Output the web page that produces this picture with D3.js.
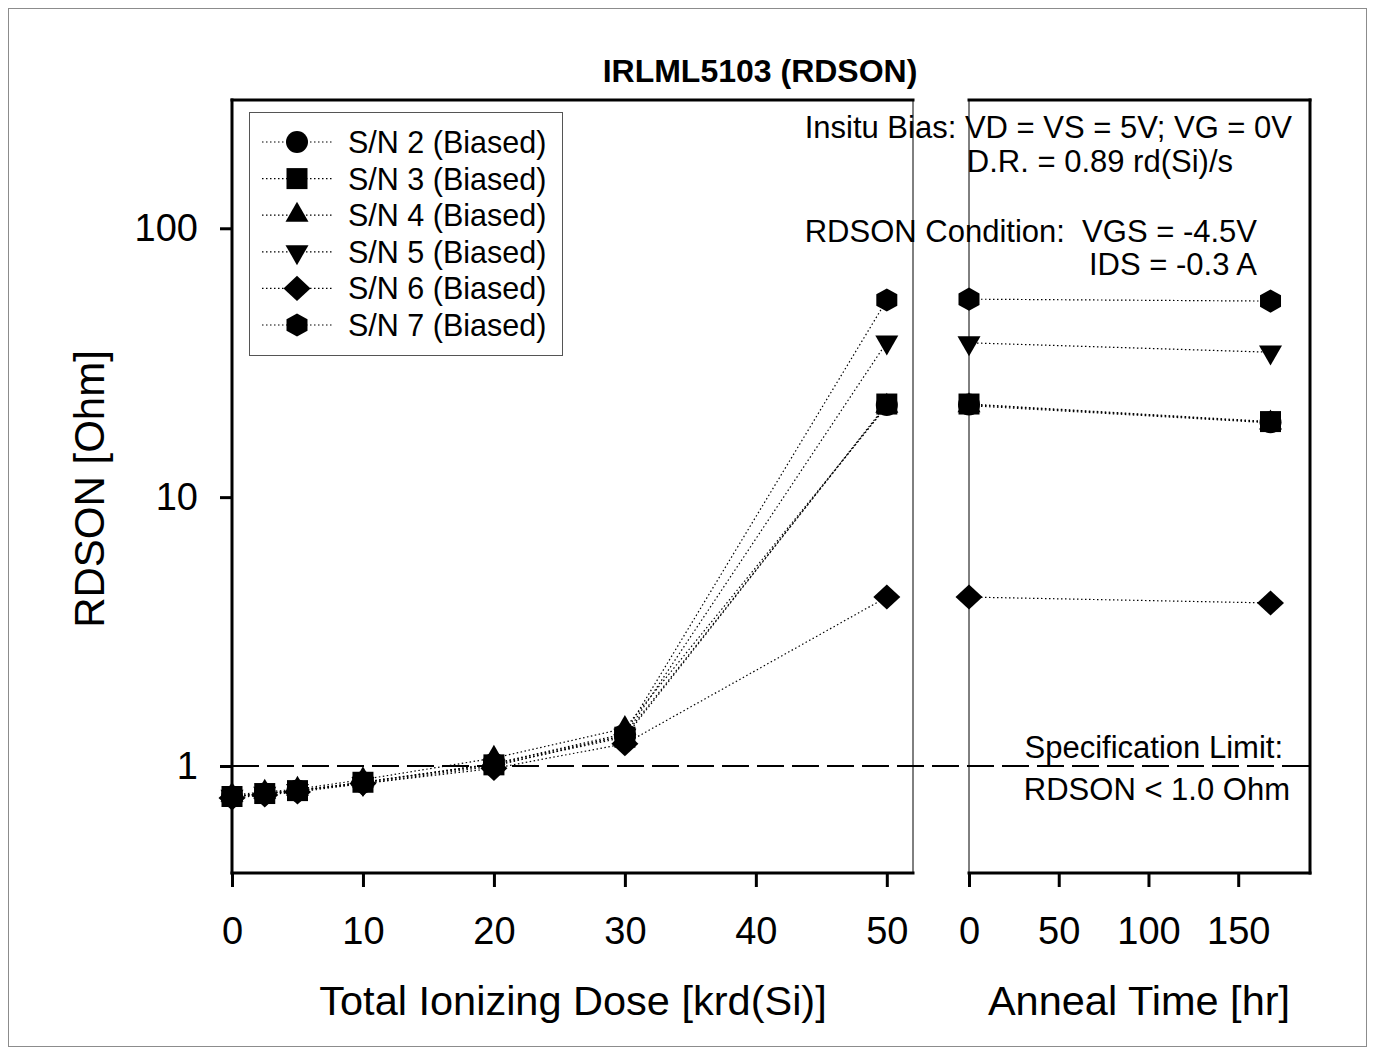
<!DOCTYPE html>
<html lang="en">
<head>
  <meta charset="UTF-8">
  <title>IRLML5103 (RDSON)</title>
  <script src="https://d3js.org/d3.v7.min.js"></script>
  <style>
    * { margin: 0; padding: 0; }
    body { background-color: #fff; }
    svg text { font-family: "Liberation Sans", Arial, sans-serif; fill: #000; }
  </style>
</head>
<body>
  <svg id="chart" width="1375" height="1055"></svg>

  <script>
    // dose steps (krd(Si)) and anneal times (hr)
    var dose = [0, 2.5, 5, 10, 20, 30, 50];
    var anneal = [0, 168];

    var sn2Dose = [0.77, 0.79, 0.81, 0.87, 1.02, 1.30, 22.0];
    var sn3Dose = [0.77, 0.79, 0.81, 0.87, 1.01, 1.28, 22.2];
    var sn4Dose = [0.78, 0.80, 0.82, 0.89, 1.07, 1.38, 21.8];
    var sn5Dose = [0.77, 0.79, 0.81, 0.86, 1.00, 1.30, 37.7];
    var sn6Dose = [0.76, 0.78, 0.80, 0.86, 0.98, 1.21, 4.25];
    var sn7Dose = [0.77, 0.79, 0.81, 0.87, 1.02, 1.32, 54.1];

    var sn2Anneal = [22.1, 19.0];
    var sn3Anneal = [22.2, 19.1];
    var sn4Anneal = [21.9, 18.9];
    var sn5Anneal = [37.5, 34.6];
    var sn6Anneal = [4.25, 4.04];
    var sn7Anneal = [54.5, 53.6];

    var labels = ["S/N 2 (Biased)", "S/N 3 (Biased)", "S/N 4 (Biased)",
                  "S/N 5 (Biased)", "S/N 6 (Biased)", "S/N 7 (Biased)"];
    var doseTicks = [0, 10, 20, 30, 40, 50];
    var annealTicks = [0, 50, 100, 150];
    var yTicks = [1, 10, 100];
    var specLimit = 1.0;

    // marker shapes, size = half width in px
    var circle = { draw: function(c, r) { c.moveTo(r, 0); c.arc(0, 0, r, 0, 2 * Math.PI); } };
    var square = { draw: function(c, r) { c.rect(-r, -r, 2 * r, 2 * r); } };
    var triUp = { draw: function(c, r) {
      var h = r * 1.74;
      c.moveTo(0, -h * 2 / 3); c.lineTo(r, h / 3); c.lineTo(-r, h / 3); c.closePath();
    } };
    var triDown = { draw: function(c, r) {
      var h = r * 1.74;
      c.moveTo(0, h * 2 / 3); c.lineTo(r, -h / 3); c.lineTo(-r, -h / 3); c.closePath();
    } };
    var diamond = { draw: function(c, r) {
      var h = r * 0.93;
      c.moveTo(0, -h); c.lineTo(r, 0); c.lineTo(0, h); c.lineTo(-r, 0); c.closePath();
    } };
    var hexagon = { draw: function(c, r) {
      var h = r * 1.1;
      c.moveTo(0, -h); c.lineTo(r, -h / 2); c.lineTo(r, h / 2);
      c.lineTo(0, h); c.lineTo(-r, h / 2); c.lineTo(-r, -h / 2); c.closePath();
    } };

    var series = [
      { name: labels[0], shape: circle,  size: 11,   dose: sn2Dose, anneal: sn2Anneal },
      { name: labels[1], shape: square,  size: 10.5, dose: sn3Dose, anneal: sn3Anneal },
      { name: labels[2], shape: triUp,   size: 11.5, dose: sn4Dose, anneal: sn4Anneal },
      { name: labels[3], shape: triDown, size: 11.5, dose: sn5Dose, anneal: sn5Anneal },
      { name: labels[4], shape: diamond, size: 13.5, dose: sn6Dose, anneal: sn6Anneal },
      { name: labels[5], shape: hexagon, size: 10.5, dose: sn7Dose, anneal: sn7Anneal }
    ];

    var svg = d3.select("#chart");
    var plotTop = 100, plotBottom = 873;

    var xDose = d3.scaleLinear().domain([0, 52]).range([232, 913]);
    var xAnneal = d3.scaleLinear().domain([0, 190]).range([969, 1310]);
    var y = d3.scaleLog().domain([0.4, 300]).range([plotBottom, plotTop]);

    // outer frame
    svg.append("rect").attr("x", 8.5).attr("y", 8.5).attr("width", 1358).attr("height", 1038)
      .attr("fill", "none").attr("stroke", "#8c8c8c").attr("stroke-width", 1);

    // title
    svg.append("text").attr("x", 760).attr("y", 82).attr("text-anchor", "middle")
      .style("font-size", "32px").style("font-weight", "bold").text("IRLML5103 (RDSON)");

    // panel frames
    function frameLine(x1, y1, x2, y2, w) {
      svg.append("line").attr("x1", x1).attr("y1", y1).attr("x2", x2).attr("y2", y2)
        .attr("stroke", "#000").attr("stroke-width", w).attr("stroke-linecap", "square");
    }
    frameLine(232, plotTop, 913, plotTop, 3);
    frameLine(232, plotTop, 232, plotBottom, 3);
    frameLine(232, plotBottom, 913, plotBottom, 3);
    frameLine(913, plotTop, 913, plotBottom, 1);
    frameLine(969, plotTop, 1310, plotTop, 3);
    frameLine(969, plotTop, 969, plotBottom, 1);
    frameLine(969, plotBottom, 1310, plotBottom, 3);
    frameLine(1310, plotTop, 1310, plotBottom, 3);

    // axes
    function styleAxis(g, size) {
      g.select(".domain").remove();
      g.selectAll(".tick line").attr("stroke", "#000").attr("stroke-width", 3);
      g.selectAll(".tick text").style("font-size", size + "px").attr("fill", "#000");
    }
    svg.append("g").attr("transform", "translate(0," + plotBottom + ")")
      .call(d3.axisBottom(xDose).tickValues(doseTicks).tickSize(14).tickPadding(30).tickFormat(d3.format("d")))
      .call(styleAxis, 38);
    svg.append("g").attr("transform", "translate(0," + plotBottom + ")")
      .call(d3.axisBottom(xAnneal).tickValues(annealTicks).tickSize(14).tickPadding(30).tickFormat(d3.format("d")))
      .call(styleAxis, 38);
    svg.append("g").attr("transform", "translate(232,0)")
      .call(d3.axisLeft(y).tickValues(yTicks).tickSize(12).tickPadding(22).tickFormat(d3.format("d")))
      .call(styleAxis, 38);

    // axis titles
    svg.append("text").attr("x", 573).attr("y", 1015).attr("text-anchor", "middle")
      .style("font-size", "41.5px").text("Total Ionizing Dose [krd(Si)]");
    svg.append("text").attr("x", 1139).attr("y", 1015).attr("text-anchor", "middle")
      .style("font-size", "41.5px").text("Anneal Time [hr]");
    svg.append("text").attr("transform", "translate(104,489) rotate(-90)").attr("text-anchor", "middle")
      .style("font-size", "42px").text("RDSON [Ohm]");

    // specification limit
    svg.append("line").attr("x1", 232).attr("x2", 1310).attr("y1", y(specLimit)).attr("y2", y(specLimit))
      .attr("stroke", "#000").attr("stroke-width", 2).attr("stroke-dasharray", "27,8");

    // annotations
    var notes = [
      ["Insitu Bias: VD = VS = 5V; VG = 0V", 1292, 138],
      ["D.R. = 0.89 rd(Si)/s", 1233, 172],
      ["RDSON Condition:  VGS = -4.5V", 1257, 242],
      ["IDS = -0.3 A", 1257, 275],
      ["Specification Limit:", 1283, 758],
      ["RDSON < 1.0 Ohm", 1290, 800]
    ];
    svg.selectAll("text.note").data(notes).enter().append("text").attr("class", "note")
      .attr("x", function(d) { return d[1]; }).attr("y", function(d) { return d[2]; })
      .attr("text-anchor", "end").style("font-size", "31px").style("white-space", "pre")
      .text(function(d) { return d[0]; });

    // data
    var lineDose = d3.line().x(function(d) { return xDose(d[0]); }).y(function(d) { return y(d[1]); });
    var lineAnneal = d3.line().x(function(d) { return xAnneal(d[0]); }).y(function(d) { return y(d[1]); });

    series.forEach(function(s) {
      var ptsDose = dose.map(function(x, i) { return [x, s.dose[i]]; });
      var ptsAnneal = anneal.map(function(x, i) { return [x, s.anneal[i]]; });
      var g = svg.append("g");
      g.append("path").attr("d", lineDose(ptsDose)).attr("fill", "none")
        .attr("stroke", "#000").attr("stroke-width", 1.2).attr("stroke-dasharray", "1.5,2.5");
      g.append("path").attr("d", lineAnneal(ptsAnneal)).attr("fill", "none")
        .attr("stroke", "#000").attr("stroke-width", 1.2).attr("stroke-dasharray", "1.5,2.5");
      var sym = d3.symbol().type(s.shape).size(s.size);
      g.selectAll("path.mk-d").data(ptsDose).enter().append("path").attr("class", "mk-d")
        .attr("d", sym).attr("fill", "#000")
        .attr("transform", function(d) { return "translate(" + xDose(d[0]) + "," + y(d[1]) + ")"; });
      g.selectAll("path.mk-a").data(ptsAnneal).enter().append("path").attr("class", "mk-a")
        .attr("d", sym).attr("fill", "#000")
        .attr("transform", function(d) { return "translate(" + xAnneal(d[0]) + "," + y(d[1]) + ")"; });
    });

    // legend
    var legend = svg.append("g");
    legend.append("rect").attr("x", 249.5).attr("y", 112.5).attr("width", 313).attr("height", 243)
      .attr("fill", "#fff").attr("stroke", "#555").attr("stroke-width", 1);
    series.forEach(function(s, i) {
      var cy = 142 + i * 36.6;
      legend.append("line").attr("x1", 262).attr("x2", 332).attr("y1", cy).attr("y2", cy)
        .attr("stroke", "#000").attr("stroke-width", 1.2).attr("stroke-dasharray", "1.5,2.5");
      legend.append("path").attr("d", d3.symbol().type(s.shape).size(s.size)).attr("fill", "#000")
        .attr("transform", "translate(297," + cy + ")");
      legend.append("text").attr("x", 348).attr("y", cy + 11).style("font-size", "30.5px").text(s.name);
    });
  </script>
</body>
</html>
